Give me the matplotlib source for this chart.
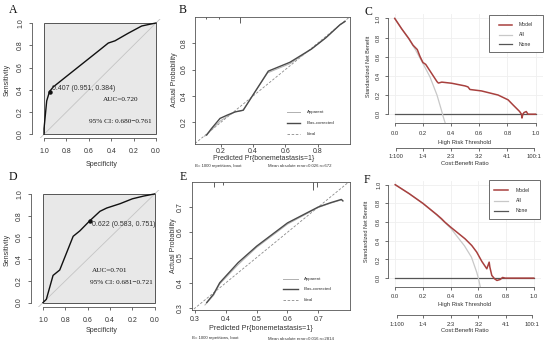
import numpy as np
import matplotlib
matplotlib.use("Agg")
import matplotlib.pyplot as plt
from matplotlib.patches import Rectangle
from matplotlib.lines import Line2D
from matplotlib.ticker import FormatStrFormatter

# ---- A: ROC, training set
roc_a_spec = [1.0, 1.0, 0.976, 0.951, 0.917, 0.80, 0.65, 0.50, 0.426, 0.366, 0.25, 0.128, 0.05, 0.0]
roc_a_sens = [0.0, 0.05, 0.30, 0.384, 0.426, 0.52, 0.64, 0.76, 0.82, 0.84, 0.907, 0.973, 0.99, 1.0]
roc_a_cut = (0.951, 0.384)

# ---- D: ROC, validation set
roc_d_spec = [1.0, 0.97, 0.91, 0.85, 0.73, 0.67, 0.583, 0.49, 0.43, 0.31, 0.20, 0.10, 0.0]
roc_d_sens = [0.0, 0.03, 0.25, 0.30, 0.61, 0.66, 0.751, 0.84, 0.87, 0.91, 0.955, 0.98, 1.0]
roc_d_cut = (0.583, 0.751)

# ---- B: calibration, training set
cal_b_x = [0.112, 0.14, 0.195, 0.24, 0.288, 0.339, 0.391, 0.494, 0.628, 0.762, 0.85, 0.938, 0.969]
cal_b_bias = [0.104, 0.15, 0.23, 0.255, 0.279, 0.292, 0.392, 0.588, 0.655, 0.756, 0.84, 0.939, 0.964]
cal_b_app_x = [0.10, 0.14, 0.196, 0.24, 0.288, 0.335, 0.39, 0.49, 0.63, 0.762, 0.85, 0.938, 0.969]
cal_b_app = [0.095, 0.14, 0.21, 0.245, 0.28, 0.29, 0.39, 0.575, 0.645, 0.755, 0.84, 0.94, 0.965]
rug_b_x = [0.11, 0.19, 0.32]
rug_b_h = [0.02, 0.02, 0.05]

# ---- E: calibration, validation set
cal_e_x = [0.338, 0.36, 0.38, 0.44, 0.50, 0.60, 0.70, 0.74, 0.775, 0.78]
cal_e_bias = [0.322, 0.355, 0.40, 0.48, 0.545, 0.637, 0.70, 0.717, 0.73, 0.724]
cal_e_app_x = [0.332, 0.36, 0.38, 0.44, 0.50, 0.60, 0.70, 0.74, 0.775]
cal_e_app = [0.312, 0.35, 0.395, 0.472, 0.54, 0.632, 0.698, 0.715, 0.728]
rug_e_x = [0.36, 0.392, 0.684, 0.695]
rug_e_h = [0.04, 0.025, 0.06, 0.04]

# ---- C: decision curve, training set
dca_c_t = [0, 0.05, 0.10, 0.13, 0.16, 0.18, 0.20, 0.22, 0.26, 0.30, 0.31, 0.334, 0.405, 0.50,
           0.52, 0.534, 0.616, 0.734, 0.805, 0.84, 0.887, 0.90, 0.9035, 0.91, 0.918, 0.934, 0.946, 1.0]
dca_c_model = [1.0, 0.89, 0.79, 0.72, 0.675, 0.60, 0.54, 0.52, 0.43, 0.34, 0.325, 0.335, 0.323, 0.295,
               0.285, 0.258, 0.243, 0.20, 0.15, 0.097, 0.028, 0.0, -0.04, 0.0, 0.017, 0.028, 0.0, 0.0]
dca_c_all_t = [0, 0.05, 0.10, 0.15, 0.20, 0.25, 0.30, 0.33, 0.345, 0.36]
dca_c_all = [1.0, 0.89, 0.785, 0.665, 0.53, 0.39, 0.20, 0.05, -0.03, -0.10]

# ---- F: decision curve, validation set
dca_f_t = [0, 0.1, 0.2, 0.3, 0.334, 0.358, 0.40, 0.504, 0.552, 0.588, 0.625, 0.661, 0.668, 0.678,
           0.683, 0.697, 0.717, 0.734, 0.758, 0.775, 0.794, 1.0]
dca_f_model = [1.0, 0.905, 0.80, 0.68, 0.636, 0.60, 0.546, 0.421, 0.35, 0.279, 0.179, 0.10, 0.129, 0.171,
               0.118, 0.029, -0.007, -0.025, -0.014, 0.007, 0.0, 0.0]
dca_f_all_t = [0, 0.1, 0.2, 0.3, 0.4, 0.5, 0.55, 0.588, 0.60, 0.615]
dca_f_all = [1.0, 0.905, 0.80, 0.675, 0.535, 0.345, 0.225, 0.064, 0.0, -0.10]

cb_ticks = [1 / 101, 0.2, 0.4, 0.6, 0.8, 100 / 101]
cb_labels = ['1:100', '1:4', '2:3', '3:2', '4:1', '100:1']

W, H = 550, 345
plt.rcParams['font.family'] = ['Liberation Sans', 'DejaVu Sans']
fig = plt.figure(figsize=(W / 100, H / 100), dpi=100)

AX = '#555555'
TXT = '#333333'
RED = '#a8403e'


def rect(l, t, r, b):
    return [l / W, 1 - b / H, (r - l) / W, (b - t) / H]


def label(x, y, s, **kw):
    kw.setdefault('ha', 'center')
    kw.setdefault('va', 'center')
    kw.setdefault('color', TXT)
    fig.text(x / W, 1 - y / H, s, **kw)


def key(x0, x1, y, **kw):
    fig.add_artist(Line2D([x0 / W, x1 / W], [1 - y / H, 1 - y / H], transform=fig.transFigure, **kw))


def style(ax, fs, xpad, ypad, box=False):
    ax.tick_params(length=2.2, width=0.6, color=AX, labelcolor=TXT, labelsize=fs)
    ax.tick_params(axis='x', pad=xpad)
    ax.tick_params(axis='y', pad=ypad)
    for s in ax.spines.values():
        s.set_color(AX)
        s.set_linewidth(0.6)
    if not box:
        ax.spines['top'].set_visible(False)
        ax.spines['right'].set_visible(False)
    ax.xaxis.set_major_formatter(FormatStrFormatter('%.1f'))
    ax.yaxis.set_major_formatter(FormatStrFormatter('%.1f'))
    plt.setp(ax.get_yticklabels(), rotation=90, va='center')


def letter(x, y, s):
    label(x, y, s, fontsize=8.5, family='Liberation Serif', color='#111111')


# ================= ROC panels
def roc(axbox, spec, sens, cut):
    ax = fig.add_axes(rect(*axbox))
    ax.set_xlim(1.11, -0.11)
    ax.set_ylim(-0.036, 1.036)
    ax.add_patch(Rectangle((0, 0), 1, 1, fc='#e8e8e8', ec='#555555', lw=0.7, zorder=0))
    ax.plot([1.2, -0.2], [-0.2, 1.2], color='#c4c4c4', lw=0.6)
    ax.plot(spec, sens, color='#111111', lw=1.0)
    ax.plot([cut[0]], [cut[1]], 'o', ms=2.2, color='#111111')
    ticks = [0, 0.2, 0.4, 0.6, 0.8, 1.0]
    ax.set_xticks(ticks)
    ax.set_yticks(ticks)
    ax.spines['left'].set_bounds(0, 1)
    ax.spines['bottom'].set_bounds(0, 1)
    style(ax, 5, 5.0, 3.2)
    ax.set_facecolor('none')
    return ax


roc([31.7, 19, 168.3, 138.3], roc_a_spec, roc_a_sens, roc_a_cut)
label(52, 88, '0.407 (0.951, 0.384)', ha='left', fontsize=5)
label(120.5, 100, 'AUC=0.720', fontsize=5.2, family='Liberation Serif', color='#111111')
label(120.5, 121, '95% CI: 0.680\u22120.761', fontsize=5.2, family='Liberation Serif', color='#111111')
label(7.3, 80, 'Sensitivity', rotation=90, fontsize=5)
label(102, 164, 'Specificity', fontsize=5)
letter(13, 10, 'A')

roc([30.7, 190, 167, 306.5], roc_d_spec, roc_d_sens, roc_d_cut)
label(92, 224.3, '0.622 (0.583, 0.751)', ha='left', fontsize=5)
label(91.7, 271, 'AUC=0.701', ha='left', fontsize=5.2, family='Liberation Serif', color='#111111')
label(90, 282.7, '95% CI: 0.681\u22120.721', ha='left', fontsize=5.2, family='Liberation Serif', color='#111111')
label(7.3, 250, 'Sensitivity', rotation=90, fontsize=5)
label(102, 331, 'Specificity', fontsize=5)
letter(13, 177, 'D')


# ================= calibration panels
def calib(axbox, lim, ticks, x_bias, bias, x_app, app, rug_x, rug_h, xpad):
    ax = fig.add_axes(rect(*axbox))
    ax.set_xlim(*lim[0])
    ax.set_ylim(*lim[1])
    ax.plot([0, 1], [0, 1], color='#8a8a8a', lw=0.6, ls=(0, (3, 2)))
    ax.plot(x_app, app, color='#b0b0b0', lw=0.7)
    ax.plot(x_bias, bias, color='#4a4a4a', lw=1.0)
    ax.vlines(rug_x, [1 - h for h in rug_h], 1, color='#444444', lw=0.6,
              transform=ax.get_xaxis_transform())
    ax.set_xticks(ticks[0])
    ax.set_yticks(ticks[1])
    style(ax, 5, xpad, 3.2, box=True)
    return ax


def calib_legend(x0, x1, xt, ys):
    key(x0, x1, ys[0], color='#b0b0b0', lw=0.7)
    key(x0, x1, ys[1], color='#4a4a4a', lw=1.0)
    key(x0, x1, ys[2], color='#8a8a8a', lw=0.6, ls=(0, (3, 2)))
    for y, s in zip(ys, ['Apparent', 'Bias-corrected', 'Ideal']):
        label(xt, y, s, ha='left', fontsize=3.2)


axb = calib([195, 16.7, 350, 143.5], [(0.04, 1.0), (0.04, 1.0)],
            [[0.2, 0.4, 0.6, 0.8], [0.2, 0.4, 0.6, 0.8]],
            cal_b_x, cal_b_bias, cal_b_app_x, cal_b_app, rug_b_x, rug_b_h, 0.8)
calib_legend(286.7, 300, 306.7, [112.3, 123.3, 134])
label(174, 80, 'Actual Probability', rotation=90, fontsize=5)
label(264, 158.5, 'Predicted Pr{bonemetastasis=1}', fontsize=5)
label(195, 166, 'B= 1000 repetitions, boot', ha='left', fontsize=3.1)
label(268, 166, 'Mean absolute error=0.026 n=672', ha='left', fontsize=3.1)
letter(183, 10, 'B')

axe = calib([191.7, 182, 350, 310.3], [(0.289, 0.803), (0.291, 0.799)],
            [[0.3, 0.4, 0.5, 0.6, 0.7], [0.3, 0.4, 0.5, 0.6, 0.7]],
            cal_e_x, cal_e_bias, cal_e_app_x, cal_e_app, rug_e_x, rug_e_h, 2.0)
calib_legend(283, 298, 304, [279.3, 289.3, 299.7])
label(173, 246, 'Actual Probability', rotation=90, fontsize=5)
label(261, 329, 'Predicted Pr{bonemetastasis=1}', fontsize=5.2)
label(191.7, 338.5, 'B= 1000 repetitions, boot', ha='left', fontsize=3.1)
label(268, 338.5, 'Mean absolute error=0.016 n=2814', ha='left', fontsize=3.1)
letter(183, 177, 'E')


# ================= decision curve panels
def dca(axbox, cb_y, t, model, t_all, all_, leg_box, leg_x0, leg_x1, leg_xt, leg_ys):
    ax = fig.add_axes(rect(*axbox))
    ax.set_xlim(-0.05, 1.05)
    ax.set_ylim(-0.095, 1.043)
    ticks = [0, 0.2, 0.4, 0.6, 0.8, 1.0]
    ax.set_xticks(ticks)
    ax.set_yticks(ticks)
    ax.grid(color='#efefef', lw=0.6)
    ax.set_axisbelow(True)
    ax.plot([0, 1], [0, 0], color='#555555', lw=0.9)
    ax.plot(t_all, all_, color='#c8c8c8', lw=0.9)
    ax.plot(t, model, color=RED, lw=1.1)
    ax.spines['left'].set_bounds(0, 1)
    ax.spines['bottom'].set_bounds(0, 1)
    style(ax, 4.2, 3.0, 3.0)

    l, t0, r, b = axbox
    ax2 = fig.add_axes(rect(l, cb_y - 6, r, cb_y))
    ax2.set_xlim(-0.05, 1.05)
    ax2.set_facecolor('none')
    for s in ['top', 'left', 'right']:
        ax2.spines[s].set_visible(False)
    ax2.spines['bottom'].set_bounds(cb_ticks[0], cb_ticks[-1])
    ax2.spines['bottom'].set_color(AX)
    ax2.spines['bottom'].set_linewidth(0.6)
    ax2.set_yticks([])
    ax2.set_xticks(cb_ticks)
    ax2.set_xticklabels(cb_labels)
    ax2.tick_params(length=2.2, width=0.6, color=AX, labelcolor=TXT, labelsize=4.2, pad=2.5)

    fig.add_artist(Rectangle((leg_box[0] / W, 1 - leg_box[3] / H),
                             (leg_box[2] - leg_box[0]) / W, (leg_box[3] - leg_box[1]) / H,
                             transform=fig.transFigure, fc='white', ec='#555555', lw=0.6))
    key(leg_x0, leg_x1, leg_ys[0], color=RED, lw=1.1)
    key(leg_x0, leg_x1, leg_ys[1], color='#c8c8c8', lw=0.9)
    key(leg_x0, leg_x1, leg_ys[2], color='#555555', lw=0.9)
    for y, s in zip(leg_ys, ['Model', 'All', 'None']):
        label(leg_xt, y, s, ha='left', fontsize=3.7)
    return ax


dca([387.7, 14.3, 542.6, 123.3], 147.7, dca_c_t, dca_c_model, dca_c_all_t, dca_c_all,
    [488.8, 14.5, 543, 51.7], 499, 512, 518.5, [25, 35, 44.3])
label(368, 66, 'Standardized Net Benefit', rotation=90, fontsize=4)
label(465, 142.7, 'High Risk Threshold', fontsize=4.2)
label(465, 163.3, 'Cost:Benefit Ratio', fontsize=4.2)
letter(368, 12, 'C')

dca([388.3, 180.7, 540.7, 287], 315.3, dca_f_t, dca_f_model, dca_f_all_t, dca_f_all,
    [489.3, 180.3, 540, 218.7], 494, 508, 515.7, [190.3, 201, 211])
label(367, 231, 'Standardized Net Benefit', rotation=90, fontsize=4)
label(464.5, 304.3, 'High Risk Threshold', fontsize=4.2)
label(464.5, 330.3, 'Cost:Benefit Ratio', fontsize=4.2)
letter(367, 180, 'F')

fig.savefig('out.png', dpi=100)
